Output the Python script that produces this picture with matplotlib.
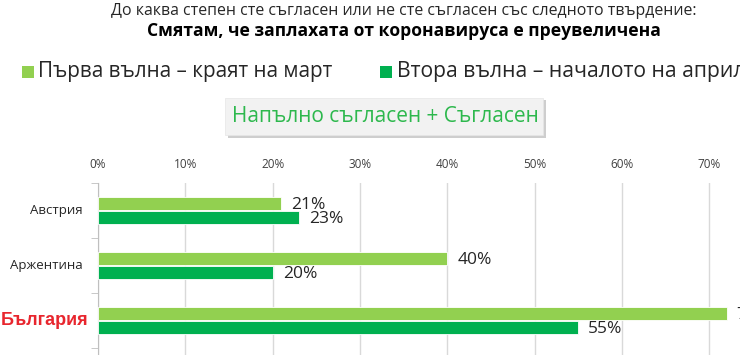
import matplotlib
matplotlib.use("Agg")
import matplotlib.pyplot as plt
from matplotlib.patches import Rectangle
import matplotlib.transforms as mtransforms
import numpy as np

plt.rcParams['font.family'] = ['Open Sans', 'DejaVu Sans']

categories = ["Австрия", "Аржентина", "България"]
first_wave = [21, 40, 72]
second_wave = [23, 20, 55]
xticks = [0, 10, 20, 30, 40, 50, 60, 70]
series_names = ["Първа вълна – краят на март", "Втора вълна – началото на април"]
title1 = "До каква степен сте съгласен или не сте съгласен със следното твърдение:"
title2 = "Смятам, че заплахата от коронавируса е преувеличена"
box_text = "Напълно съгласен + Съгласен"
highlight = "България"

c_light = "#92D050"
c_dark = "#00B050"

W, H = 740, 355
fig = plt.figure(figsize=(W / 100, H / 100), dpi=100)
fig.patch.set_facecolor("white")

def fx(px):
    return px / W

def fy(py):
    return 1 - py / H

# axes: x from 98 px (0%) ; 10% = 87.3 px
px_per = 8.73
ax_left = 98
ax_right = 740
xmax = (ax_right - ax_left) / px_per
ax_top = 183
ax_bot = 183 + 55 * 4
ax = fig.add_axes([fx(ax_left), fy(ax_bot), fx(ax_right - ax_left), (ax_bot - ax_top) / H])
ax.set_xlim(0, xmax)
ax.set_ylim(3.5, -0.5)

y = np.arange(len(categories))
bh = 0.225
ax.barh(y - 0.13, first_wave, height=bh, color=c_light, edgecolor="white", linewidth=0.6, zorder=3)
ax.barh(y + 0.125, second_wave, height=bh, color=c_dark, edgecolor="white", linewidth=0.6, zorder=3)

for yi, v in zip(y, first_wave):
    ax.text(v + 1.15, yi - 0.1, f"{v}%", fontsize=12.5, color="#262626", va="center", ha="left",
            clip_on=False, zorder=4)
for yi, v in zip(y, second_wave):
    ax.text(v + 1.15, yi + 0.15, f"{v}%", fontsize=12.5, color="#262626", va="center", ha="left",
            clip_on=False, zorder=4)

ax.set_xticks(xticks)
ax.set_xticklabels([f"{t}%" for t in xticks], fontsize=8.5, color="#404040")
ax.xaxis.tick_top()
ax.tick_params(axis="x", length=0, pad=9)
ax.grid(axis="x", color="#D9D9D9", linewidth=1, zorder=0)

ax.set_yticks(y)
ax.set_yticklabels([])
ax.set_yticks(np.arange(-0.5, 3.6, 1.0), minor=True)
ax.tick_params(axis="y", which="major", length=0)
ax.tick_params(axis="y", which="minor", length=5, color="#BFBFBF", direction="out")

ytrans = mtransforms.blended_transform_factory(fig.transFigure, ax.transData)
for yi, cat in zip(y, categories):
    if cat == highlight:
        ax.text(fx(88), yi, cat, transform=ytrans, fontsize=13, fontweight="bold",
                color="#E8262E", ha="right", va="center", family=["Liberation Sans", "DejaVu Sans"],
                clip_on=False)
    else:
        ax.text(fx(83), yi, cat, transform=ytrans, fontsize=9.5, color="#262626",
                ha="right", va="center", clip_on=False)

for s in ["top", "right", "bottom"]:
    ax.spines[s].set_visible(False)
ax.spines["left"].set_color("#BFBFBF")

# titles
fig.text(fx(404), fy(11), title1, fontsize=11.4, color="#262626", ha="center", va="center")
fig.text(fx(404), fy(31), title2, fontsize=12.6, color="#000000", ha="center", va="center",
         fontweight="bold")

# legend
fig.patches.append(Rectangle((fx(22), fy(78)), fx(12), 12 / H, transform=fig.transFigure,
                             facecolor=c_light, edgecolor="none"))
fig.text(fx(38), fy(72), series_names[0], fontsize=14.9, color="#262626", ha="left", va="center")
fig.patches.append(Rectangle((fx(380), fy(78)), fx(12), 12 / H, transform=fig.transFigure,
                             facecolor=c_dark, edgecolor="none"))
fig.text(fx(397), fy(72), series_names[1], fontsize=15.2, color="#262626", ha="left", va="center")

# box with shadow
fig.patches.append(Rectangle((fx(228), fy(138)), fx(318), 38 / H, transform=fig.transFigure,
                             facecolor="#A6A6A6", edgecolor="none", alpha=0.55))
fig.patches.append(Rectangle((fx(225), fy(135)), fx(318), 37 / H, transform=fig.transFigure,
                             facecolor="#F2F2F2", edgecolor="#E6E6E6", linewidth=0.5))
fig.text(fx(385), fy(116), box_text, fontsize=15, color="#2DB84D", ha="center", va="center")

fig.savefig("out.png", dpi=100)
